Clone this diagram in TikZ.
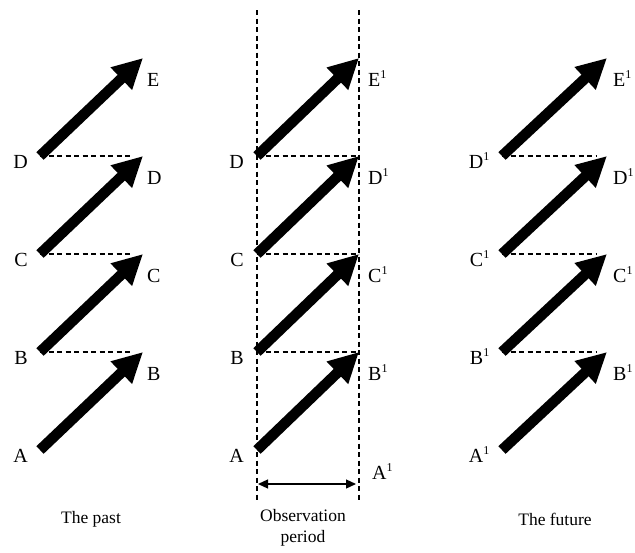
\documentclass[tikz,border=0pt]{standalone}
\usepackage{fontspec}
\setmainfont{Liberation Serif}
\usetikzlibrary{arrows.meta}
\definecolor{ink}{rgb}{0,0,0}
\newcommand{\tone}{\textsuperscript{\fontsize{12}{12}\selectfont 1}}

\begin{document}
\begin{tikzpicture}[x=1pt,y=-1pt,
  move/.style={draw=ink,line width=10.5pt,-{Triangle[length=30pt,width=29pt]}},
  link/.style={draw=ink,line width=1.1pt,dash pattern=on 5pt off 3.5pt},
  span/.style={draw=ink,line width=1.2pt,{Triangle[length=10pt,width=9pt]}-{Triangle[length=10pt,width=9pt]}},
  lbl/.style={font=\fontsize{20}{20}\selectfont,text=ink,inner sep=0pt},
  phase/.style={font=\fontsize{17.5}{21}\selectfont,text=ink,align=center,inner sep=0pt}]
\useasboundingbox (0,0) rectangle (635,552);

% the past
\coordinate (lA) at (40,450);
\coordinate (lB) at (40,352);
\coordinate (lC) at (40,254);
\coordinate (lD) at (40,156);
\coordinate (hB) at (143,352);
\coordinate (hC) at (143,254);
\coordinate (hD) at (143,156);
\coordinate (hE) at (143,58);
\draw[link,shorten >=10pt] (lB) -- (hB);
\draw[link,shorten >=10pt] (lC) -- (hC);
\draw[link,shorten >=10pt] (lD) -- (hD);
\draw[move] (lA) -- (hB);
\draw[move] (lB) -- (hC);
\draw[move] (lC) -- (hD);
\draw[move] (lD) -- (hE);
\node[lbl,anchor=base east] (pastA) at (28,462) {A};
\node[lbl,anchor=base east] (pastB) at (28,364) {B};
\node[lbl,anchor=base east] (pastC) at (28,266) {C};
\node[lbl,anchor=base east] (pastD) at (28,168) {D};
\node[lbl,anchor=base west] (pastB2) at (147,380) {B};
\node[lbl,anchor=base west] (pastC2) at (147,282) {C};
\node[lbl,anchor=base west] (pastD2) at (147,184) {D};
\node[lbl,anchor=base west] (pastE2) at (147,86) {E};
\node[phase] (past) at (91,519) {The past};

% observation period
\coordinate (mTop) at (257,10);
\coordinate (mBot) at (257,500);
\coordinate (nTop) at (359,10);
\coordinate (nBot) at (359,500);
\coordinate (mA) at (257,450);
\coordinate (mB) at (257,352);
\coordinate (mC) at (257,254);
\coordinate (mD) at (257,156);
\coordinate (nB) at (359,352);
\coordinate (nC) at (359,254);
\coordinate (nD) at (359,156);
\coordinate (nE) at (359,58);
\draw[link] (mTop) -- (mBot);
\draw[link] (nTop) -- (nBot);
\draw[link] (mB) -- (nB);
\draw[link] (mC) -- (nC);
\draw[link] (mD) -- (nD);
\draw[move] (mA) -- (nB);
\draw[move] (mB) -- (nC);
\draw[move] (mC) -- (nD);
\draw[move] (mD) -- (nE);
\node[lbl,anchor=base east] (obsA) at (244,462) {A};
\node[lbl,anchor=base east] (obsB) at (244,364) {B};
\node[lbl,anchor=base east] (obsC) at (244,266) {C};
\node[lbl,anchor=base east] (obsD) at (244,168) {D};
\node[lbl,anchor=base west] (obsB2) at (368,380) {B\tone};
\node[lbl,anchor=base west] (obsC2) at (368,282) {C\tone};
\node[lbl,anchor=base west] (obsD2) at (368,184) {D\tone};
\node[lbl,anchor=base west] (obsE2) at (368,86) {E\tone};
\node[lbl,anchor=base west] (obsA2) at (372,479) {A\tone};
\coordinate (oL) at (258,484);
\coordinate (oR) at (356,484);
\draw[span] (oL) -- (oR);
\node[phase] (obs) at (303,528) {Observation\\period};

% the future
\coordinate (fA) at (502,450);
\coordinate (fB) at (502,352);
\coordinate (fC) at (502,254);
\coordinate (fD) at (502,156);
\coordinate (gB) at (607,352);
\coordinate (gC) at (607,254);
\coordinate (gD) at (607,156);
\coordinate (gE) at (607,58);
\draw[link,shorten >=10pt] (fB) -- (gB);
\draw[link,shorten >=10pt] (fC) -- (gC);
\draw[link,shorten >=10pt] (fD) -- (gD);
\draw[move] (fA) -- (gB);
\draw[move] (fB) -- (gC);
\draw[move] (fC) -- (gD);
\draw[move] (fD) -- (gE);
\node[lbl,anchor=base east] (futA) at (490,462) {A\tone};
\node[lbl,anchor=base east] (futB) at (490,364) {B\tone};
\node[lbl,anchor=base east] (futC) at (490,266) {C\tone};
\node[lbl,anchor=base east] (futD) at (490,168) {D\tone};
\node[lbl,anchor=base west] (futB2) at (613,380) {B\tone};
\node[lbl,anchor=base west] (futC2) at (613,282) {C\tone};
\node[lbl,anchor=base west] (futD2) at (613,184) {D\tone};
\node[lbl,anchor=base west] (futE2) at (613,86) {E\tone};
\node[phase] (future) at (555,519) {The future};
\end{tikzpicture}
\end{document}
